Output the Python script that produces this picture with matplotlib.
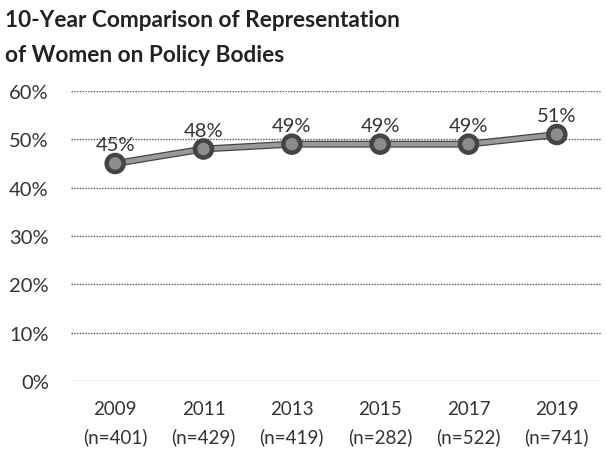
import matplotlib
matplotlib.use("Agg")
import matplotlib.pyplot as plt
import matplotlib.patheffects as pe

years = ["2009", "2011", "2013", "2015", "2017", "2019"]
sizes = ["(n=401)", "(n=429)", "(n=419)", "(n=282)", "(n=522)", "(n=741)"]
women_pct = [45, 48, 49, 49, 49, 51]

plt.rcParams['font.family'] = ['Lato', 'DejaVu Sans']

fig = plt.figure(figsize=(6.07, 4.52), dpi=100)
ax = fig.add_axes([71 / 607, 1 - 382 / 452, 530 / 607, 290 / 452])

x = list(range(len(years)))
ax.plot(x, women_pct, color="#9a9a9a", linewidth=3.2, marker="o", markersize=10.5,
        markerfacecolor="#8c8c8c", markeredgecolor="#444444", markeredgewidth=1.5,
        path_effects=[pe.Stroke(linewidth=5, foreground="#444444"), pe.Normal()],
        zorder=3)

for xi, v in zip(x, women_pct):
    ax.annotate(f"{v}%", (xi, v), xytext=(0, 7.5), textcoords="offset points",
                ha="center", va="bottom", fontsize=14.5, color="#333333")

ax.set_xlim(-0.5, len(years) - 0.5)
ax.set_ylim(0, 60)
ax.set_yticks(range(0, 61, 10))
ax.set_yticklabels([f"{t}%" for t in range(0, 61, 10)])
ax.set_xticks(x)
ax.set_xticklabels([f"{y}\n{n}" for y, n in zip(years, sizes)])
ax.tick_params(length=0, labelsize=14.5, labelcolor="#333333")
ax.tick_params(axis="y", pad=16)
ax.tick_params(axis="x", pad=14)
for lbl in ax.get_xticklabels():
    lbl.set_linespacing(1.65)
    lbl.set_fontsize(13.5)

ax.grid(axis="y", color="#555555", linestyle=(0, (1, 1)), linewidth=1)
for s in ax.spines.values():
    s.set_visible(False)

fig.text(5 / 607, 1 - 10 / 452, "10-Year Comparison of Representation\nof Women on Policy Bodies",
         ha="left", va="top", fontsize=16.3, fontweight="bold", color="#222222",
         linespacing=1.85)

fig.savefig("out.png", dpi=100)
